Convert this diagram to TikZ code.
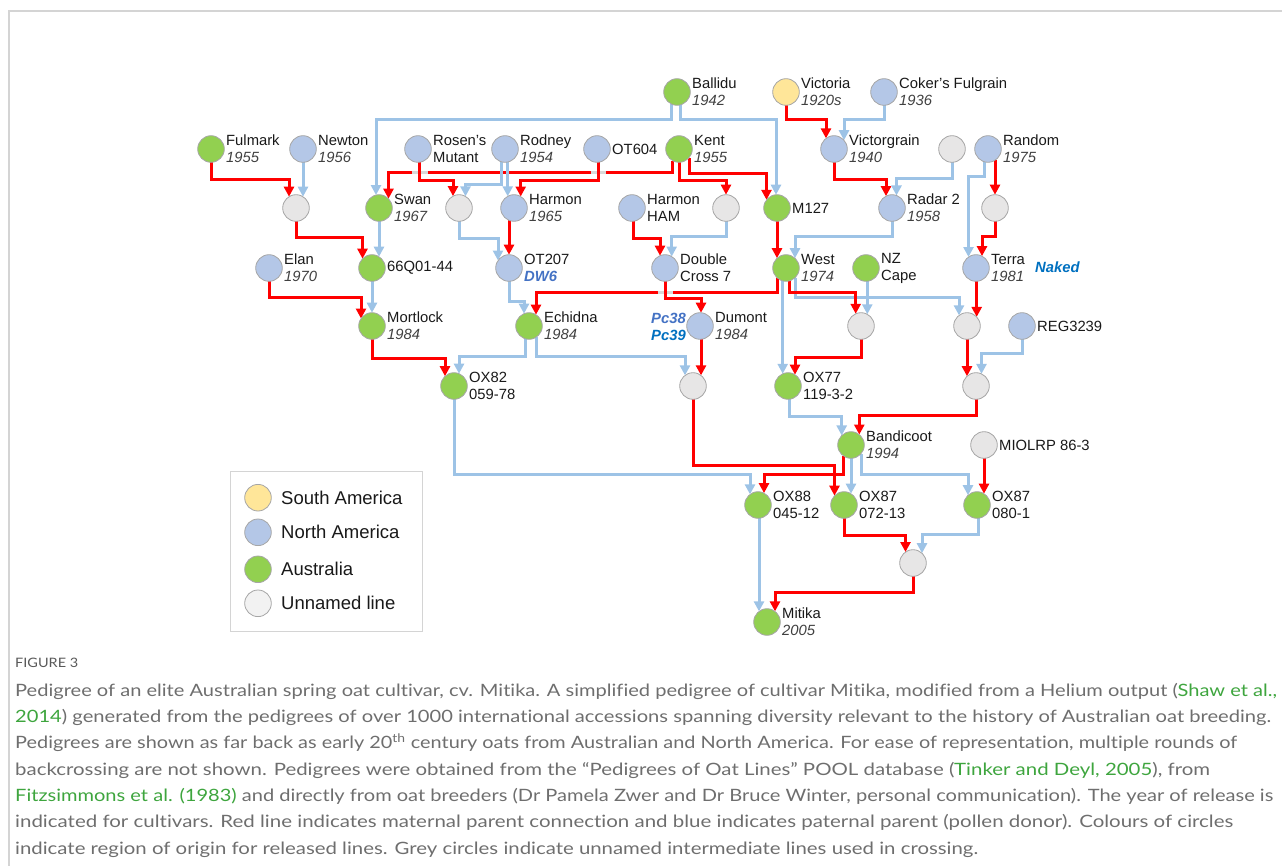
\documentclass[tikz,border=0pt]{standalone}
\usepackage{fontspec}
\usepackage{graphicx}
\setmainfont{Liberation Sans}
\newfontfamily\capfont[Ligatures={NoCommon,NoContextual}]{Lato}
\usetikzlibrary{arrows.meta,calc,backgrounds}
\definecolor{cred}{HTML}{FF0000}
\definecolor{cblue}{HTML}{9DC3E6}
\definecolor{fgreen}{HTML}{92D050}
\definecolor{fyellow}{HTML}{FFE699}
\definecolor{fblue}{HTML}{B4C7E7}
\definecolor{fgrey}{HTML}{E7E6E6}
\definecolor{fgreyl}{HTML}{F2F2F2}
\definecolor{cborder}{HTML}{A6A6A6}
\definecolor{bridgec}{HTML}{D9D9D9}
\definecolor{framec}{HTML}{D4D4D4}
\definecolor{yearc}{HTML}{404040}
\definecolor{tagblue}{HTML}{4472C4}
\definecolor{tagbluetwo}{HTML}{0070C0}
\definecolor{captc}{HTML}{6E6E6E}
\definecolor{linkc}{HTML}{3EA53E}
\tikzset{
 cult/.style={circle, draw=cborder, line width=0.8pt, minimum size=26.6pt, inner sep=0pt},
 au/.style={cult, fill=fgreen}, na/.style={cult, fill=fblue},
 sa/.style={cult, fill=fyellow}, un/.style={cult, fill=fgrey},
 lbl/.style={anchor=west, inner sep=0pt, align=left, font=\fontsize{14.8}{17}\selectfont, text=black!90},
 leg/.style={anchor=west, inner sep=0pt, font=\fontsize{18.5}{22}\selectfont, text=black!90},
 mat/.style={draw=cred, line width=3pt, -{Triangle[width=10pt,length=10pt]}},
 pat/.style={draw=cblue, line width=3pt, -{Triangle[width=10pt,length=10pt]}},
 bridge/.style={draw=bridgec, line width=3pt},
 capline/.style={anchor=base west, inner sep=0pt, font=\capfont\fontsize{17}{20}\selectfont, text=captc},
}
\newcommand\yr[1]{\textcolor{yearc}{\itshape #1}}
\newcommand\tagb[2]{\textcolor{#1}{\bfseries\itshape #2}}
\newcommand\cv[5]{\node[#1] (#2) at (#3,#4) {}; \node[lbl] (#2-l) at (#3+15,#4) {#5};}
\newcommand\link[6]{%
 \draw[#1] let \p1=(#2.center), \p2=(#5.center),
   \n1={sqrt(177-(#3)*(#3))}, \n2={sqrt(177-(#6)*(#6))} in
   ({\x1+(#3)*1pt}, {\y1-\n1*1pt}) -- ({\x1+(#3)*1pt}, {-#4pt})
   -- ({\x2+(#6)*1pt}, {-#4pt}) -- ({\x2+(#6)*1pt}, {\y2+\n2*1pt});}
\newcommand\vlink[4]{%
 \draw[#1] let \p1=(#2.center), \p2=(#4.center),
   \n1={sqrt(177-(#3)*(#3))}, \n3={(\x1-\x2)/1pt+(#3)},
   \n2={sqrt(max(0,177-(\n3)*(\n3)))} in
   ({\x1+(#3)*1pt}, {\y1-\n1*1pt}) -- ({\x1+(#3)*1pt}, {\y2+\n2*1pt});}
\newsavebox\capbox
\newcommand\fitline[2]{\sbox\capbox{#2}\pgfmathsetmacro\capratio{#1/\the\wd\capbox}\scalebox{\capratio}[1]{\usebox\capbox}}
\begin{document}
\begin{tikzpicture}[x=1pt,y=-1pt]
\useasboundingbox (0,0) rectangle (1282,866);
\draw[framec, line width=1.3pt] (9,866) -- (9,11) -- (1282,11);
% nodes
\cv{au}{ballidu}{677}{92}{Ballidu\\\yr{1942}}
\cv{sa}{victoria}{786}{92}{Victoria\\\yr{1920s}}
\cv{na}{cokers}{884}{92}{Coker’s Fulgrain\\\yr{1936}}
\cv{au}{fulmark}{211}{149}{Fulmark\\\yr{1955}}
\cv{na}{newton}{303}{149}{Newton\\\yr{1956}}
\cv{na}{rosen}{418}{149}{Rosen’s\\Mutant}
\cv{na}{rodney}{505}{149}{Rodney\\\yr{1954}}
\cv{na}{ot604}{597}{149}{OT604}
\cv{au}{kent}{679}{149}{Kent\\\yr{1955}}
\cv{na}{victorgrain}{834}{149}{Victorgrain\\\yr{1940}}
\node[un] (u1) at (952,149) {};
\cv{na}{random}{988}{149}{Random\\\yr{1975}}
\node[un] (u2) at (296,208) {};
\cv{au}{swan}{379}{208}{Swan\\\yr{1967}}
\node[un] (u3) at (459,208) {};
\cv{na}{harmon}{514}{208}{Harmon\\\yr{1965}}
\cv{na}{ham}{632}{208}{Harmon\\HAM}
\node[un] (u4) at (726,208) {};
\cv{au}{m127}{777}{208}{M127}
\cv{na}{radar}{892}{208}{Radar 2\\\yr{1958}}
\node[un] (u5) at (995,208) {};
\cv{na}{elan}{269}{268}{Elan\\\yr{1970}}
\cv{au}{q66}{372}{268}{66Q01-44}
\cv{na}{ot207}{509}{268}{OT207\\\tagb{tagblue}{DW6}}
\cv{na}{dcross}{665}{268}{Double\\Cross 7}
\cv{au}{west}{786}{268}{West\\\yr{1974}}
\cv{au}{nzcape}{866}{268}{NZ\\Cape}
\cv{na}{terra}{976}{268}{Terra\\\yr{1981}}
\node[lbl] (naked) at (1035,267) {\tagb{tagbluetwo}{Naked}};
\cv{au}{mortlock}{372}{326}{Mortlock\\\yr{1984}}
\cv{au}{echidna}{529}{326}{Echidna\\\yr{1984}}
\cv{na}{dumont}{700}{326}{Dumont\\\yr{1984}}
\node[lbl, anchor=east, align=right] (pc) at (686,327) {\tagb{tagblue}{Pc38}\\\tagb{tagbluetwo}{Pc39}};
\node[un] (u6) at (861,326) {};
\node[un] (u7) at (967,326) {};
\cv{na}{reg}{1022}{326}{REG3239}
\cv{au}{ox82}{454}{386}{OX82\\059-78}
\node[un] (u8) at (693,386) {};
\cv{au}{ox77}{788}{386}{OX77\\119-3-2}
\node[un] (u9) at (976,386) {};
\cv{au}{bandicoot}{851}{445}{Bandicoot\\\yr{1994}}
\cv{un}{miolrp}{984}{445}{MIOLRP 86-3}
\cv{au}{ox88}{758}{505}{OX88\\045-12}
\cv{au}{ox87a}{844}{505}{OX87\\072-13}
\cv{au}{ox87b}{977}{505}{OX87\\080-1}
\node[un] (u10) at (913,563) {};
\cv{au}{mitika}{767}{622}{Mitika\\\yr{2005}}
% connectors
\begin{pgfonlayer}{background}
\link{pat}{ballidu}{-5.5}{120}{swan}{-3}
\link{pat}{ballidu}{3.5}{120}{m127}{-1}
\link{mat}{victoria}{0}{120}{victorgrain}{-8}
\link{pat}{cokers}{0}{120}{victorgrain}{10}
\link{mat}{fulmark}{0}{180}{u2}{-7}
\vlink{pat}{newton}{0}{u2}
\link{mat}{kent}{-6.5}{173}{swan}{9.5}
\draw[bridge] (411.5,173) -- (427.5,173);
\draw[bridge] (590.5,173) -- (606,173);
\link{mat}{rosen}{1.5}{180.7}{u3}{-6}
\link{pat}{rodney}{-3.3}{185}{u3}{6.5}
\vlink{pat}{rodney}{2.7}{harmon}
\link{mat}{ot604}{1.3}{180.7}{harmon}{6.7}
\link{mat}{kent}{0}{180.7}{u4}{0}
\link{mat}{kent}{10}{174}{m127}{-10.5}
\link{mat}{victorgrain}{0}{179.3}{radar}{-6}
\link{pat}{u1}{0}{178.3}{radar}{4.5}
\link{pat}{random}{-3.3}{176.7}{terra}{-7.5}
\vlink{mat}{random}{7}{u5}
\link{mat}{u5}{0}{236.7}{terra}{6}
\link{mat}{u2}{0}{238}{q66}{-9.5}
\vlink{pat}{swan}{0}{q66}
\link{pat}{u3}{0}{238.3}{ot207}{-11}
\vlink{mat}{harmon}{-5}{ot207}
\link{mat}{ham}{1}{238.3}{dcross}{-5}
\link{pat}{u4}{0}{236.7}{dcross}{6.7}
\vlink{mat}{m127}{0}{west}
\link{pat}{radar}{0}{236.7}{west}{9}
\link{mat}{elan}{0}{297.3}{mortlock}{-11}
\vlink{pat}{q66}{0}{mortlock}
\link{pat}{ot207}{0}{301.7}{echidna}{-5}
\link{mat}{west}{-8.7}{292.3}{echidna}{7}
\draw[bridge] (657.5,292.3) -- (672.5,292.3);
\link{mat}{dcross}{0}{298.3}{dumont}{1}
\vlink{mat}{dumont}{1}{u8}
\link{pat}{echidna}{7}{356.7}{u8}{-8}
\link{pat}{echidna}{-4}{356.7}{ox82}{5}
\link{mat}{mortlock}{0}{358.3}{ox82}{-9}
\vlink{pat}{west}{-3.3}{ox77}
\link{pat}{west}{9}{297.3}{u7}{-8}
\link{mat}{west}{3}{292.7}{u6}{-5.3}
\vlink{pat}{nzcape}{1.3}{u6}
\vlink{mat}{terra}{0.7}{u7}
\link{mat}{u6}{0}{357.3}{ox77}{7}
\vlink{mat}{u7}{0}{u9}
\link{pat}{reg}{0}{353.3}{u9}{5.5}
\link{pat}{ox77}{1.3}{416.7}{bandicoot}{-9.3}
\link{mat}{u9}{0}{415.7}{bandicoot}{8.3}
\link{pat}{ox82}{0}{474}{ox88}{-8}
\link{mat}{bandicoot}{-8}{474}{ox88}{6}
\vlink{pat}{bandicoot}{0}{ox87a}
\link{pat}{bandicoot}{10}{474}{ox87b}{-9}
\link{mat}{u8}{0}{465}{ox87a}{-9.5}
\vlink{mat}{miolrp}{0}{ox87b}
\vlink{pat}{ox88}{1}{mitika}
\link{mat}{ox87a}{0}{535}{u10}{-7.5}
\link{pat}{ox87b}{1}{534}{u10}{9}
\link{mat}{u10}{0}{592.7}{mitika}{8}
\end{pgfonlayer}
% legend
\node[draw=framec, line width=1pt, anchor=north west, inner sep=0pt, minimum width=192pt, minimum height=160pt] (legend) at (230,471) {};
\node[sa] (lsa) at (258,497.7) {}; \node[leg] (lsa-l) at (281,497.7) {South America};
\node[na] (lna) at (258,532.3) {}; \node[leg] (lna-l) at (281,532.3) {North America};
\node[au] (lau) at (258,569.3) {}; \node[leg] (lau-l) at (281,569.3) {Australia};
\node[cult, fill=fgreyl] (lun) at (258,603.3) {}; \node[leg] (lun-l) at (281,603.3) {Unnamed line};
% caption
\node[capline, font=\capfont\fontsize{13}{15}\selectfont, text=black!65] (fig) at (15,667) {\fitline{63}{FIGURE 3}};
\node[capline] (c1) at (15,696) {\fitline{1262}{Pedigree of an elite Australian spring oat cultivar, cv. Mitika. A simplified pedigree of cultivar Mitika, modified from a Helium output (\textcolor{linkc}{Shaw et al.,}}};
\node[capline] (c2) at (15,722) {\fitline{1256}{\textcolor{linkc}{2014}) generated from the pedigrees of over 1000 international accessions spanning diversity relevant to the history of Australian oat breeding.}};
\node[capline] (c3) at (15,748.5) {\fitline{1222}{Pedigrees are shown as far back as early 20\textsuperscript{th} century oats from Australian and North America. For ease of representation, multiple rounds of}};
\node[capline] (c4) at (15,775) {\fitline{1195}{backcrossing are not shown. Pedigrees were obtained from the “Pedigrees of Oat Lines” POOL database (\textcolor{linkc}{Tinker and Deyl, 2005}), from}};
\node[capline] (c5) at (15,801) {\fitline{1258}{\textcolor{linkc}{Fitzsimmons et al. (1983)} and directly from oat breeders (Dr Pamela Zwer and Dr Bruce Winter, personal communication). The year of release is}};
\node[capline] (c6) at (15,827.5) {\fitline{1218}{indicated for cultivars. Red line indicates maternal parent connection and blue indicates paternal parent (pollen donor). Colours of circles}};
\node[capline] (c7) at (15,854) {\fitline{963}{indicate region of origin for released lines. Grey circles indicate unnamed intermediate lines used in crossing.}};
\end{tikzpicture}
\end{document}
